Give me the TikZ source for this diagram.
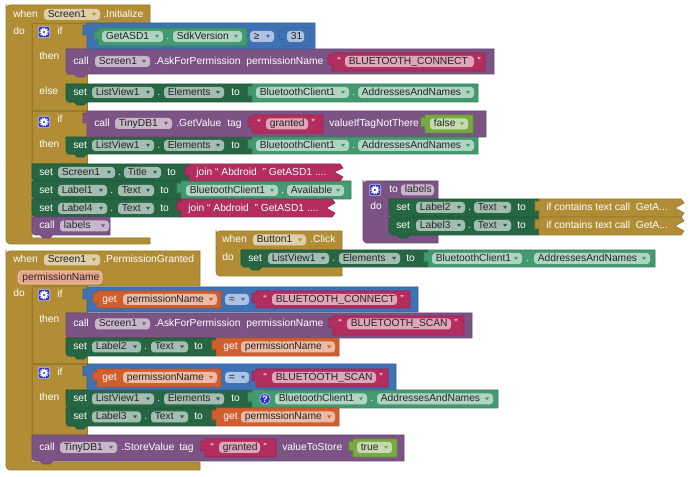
\documentclass[tikz,border=0pt]{standalone}
\usepackage{fontspec}
\setmainfont{Liberation Sans}
\definecolor{blkgold}{HTML}{B18E35}
\definecolor{blkpurple}{HTML}{7C5385}
\definecolor{blkgreen}{HTML}{266643}
\definecolor{blkteal}{HTML}{439970}
\definecolor{blkblue}{HTML}{3F71B5}
\definecolor{blkred}{HTML}{B32D5E}
\definecolor{blkorange}{HTML}{D05F2D}
\definecolor{blklime}{HTML}{77AB41}
\definecolor{blkgear}{HTML}{3333CC}
%% statement block with a bump under it: style, x1, x2, y1, y2
\newcommand{\stblk}[5]{
  \draw[#1] (#2,#4) [rounded corners=2.5pt] -- (#2,#5) [sharp corners] -- (#2+8,#5) -- (#2+11,#5+3)
    -- (#2+18,#5+3) -- (#2+21,#5) -- (#3,#5) -- (#3,#4) -- cycle;
}
%% value block with a knob on the left
\newcommand{\valblk}[5]{
  \draw[#1] (#2,#4) -- (#2,#4+3) -- (#2-4,#4+2) -- (#2-4,#4+12) -- (#2,#4+11)
    -- (#2,#5) -- (#3,#5) -- (#3,#4) -- cycle;
}
%% collapsed value block, zigzag on the right
\newcommand{\zagblk}[5]{
  \draw[#1] (#2,#4) -- (#2,#4+3) -- (#2-4,#4+2) -- (#2-4,#4+12) -- (#2,#4+11) -- (#2,#5)
    -- (#3-3,#5) -- (#3,#5-4) -- (#3-9,#5-9) -- (#3,#4+4) -- (#3-3,#4) -- cycle;
}
%% event or procedure frame: style, x1, column, bar right, y1, bar bottom, foot top, y2
\newcommand{\hatblk}[8]{
  \draw[#1] (#2,#5+3) [rounded corners=3pt] -- (#2,#5) [sharp corners] -- (#4,#5) -- (#4,#6) -- (#3,#6)
    -- (#3,#7) -- (#4,#7) -- (#4,#8) [rounded corners=3pt] -- (#2,#8) -- (#2,#5+3) [sharp corners] -- cycle;
}
\begin{document}
\begin{tikzpicture}
[x=.75pt,y=-.75pt,line width=.5pt,
  goldblk/.style={fill=blkgold,draw=blkgold!85!black},
  purpleblk/.style={fill=blkpurple,draw=blkpurple!85!black},
  greenblk/.style={fill=blkgreen,draw=blkgreen!85!black},
  tealblk/.style={fill=blkteal,draw=blkteal!85!black},
  blueblk/.style={fill=blkblue,draw=blkblue!85!black},
  redblk/.style={fill=blkred,draw=blkred!85!black},
  orangeblk/.style={fill=blkorange,draw=blkorange!85!black},
  limeblk/.style={fill=blklime,draw=blklime!85!black},
  blktext/.style={anchor=west,inner sep=0pt,text height=5.6pt,text depth=1.6pt,text=white,font=\fontsize{7.7}{9}\selectfont},
  fieldtext/.style={anchor=west,inner sep=0pt,text height=5.6pt,text depth=1.6pt,text=black!85,font=\fontsize{7.7}{9}\selectfont},
  fieldbox/.style={fill=white,fill opacity=.58,rounded corners=2.5pt},
  gearbox/.style={fill=blkgear,draw=white!70!blkgear,rounded corners=1.5pt}]
\useasboundingbox (0,0) rectangle (690,477);
%% frames
\hatblk{goldblk}{6}{32}{150}{5}{24}{238}{244}
\hatblk{goldblk}{6}{32}{200}{251}{286}{462}{470}
\hatblk{goldblk}{216}{241}{342}{231}{250}{267}{276}
\hatblk{purpleblk}{363}{389}{438}{181}{199}{235}{243}
%% if blocks
\draw[goldblk] (32,23) -- (87,23) -- (87,49) -- (66,49) -- (66,74) -- (87,74) -- (87,84) -- (66,84)
  -- (66,102) -- (87,102) -- (87,110) -- (32,110) -- cycle;
\draw[goldblk] (32,111) -- (87,111) -- (87,137) -- (66,137) -- (66,154) -- (87,154) -- (87,163) -- (32,163) -- cycle;
\draw[goldblk] (32,286) -- (87,286) -- (87,313) -- (66,313) -- (66,356) -- (87,356) -- (87,363) -- (32,363) -- cycle;
\draw[goldblk] (32,364) -- (87,364) -- (87,390) -- (66,390) -- (66,426) -- (87,426) -- (87,435) -- (32,435) -- cycle;
%% statement rows
\foreach \blkstyle/\xa/\xb/\ya/\yb in {
  purpleblk/66/494/49/74, greenblk/66/252/84/102, greenblk/66/252/137/154,
  greenblk/32/189/164/181, greenblk/32/181/181/199, greenblk/32/181/199/217, purpleblk/32/110/217/235,
  greenblk/389/539/217/235, greenblk/389/539/199/217, greenblk/241/428/250/267,
  purpleblk/66/472/313/338, greenblk/66/216/338/356, greenblk/66/216/408/426, greenblk/66/252/390/408,
  purpleblk/32/404/435/461}
{
  \stblk{\blkstyle}{\xa}{\xb}{\ya}{\yb}
}
%% value blocks
\foreach \blkstyle/\xa/\xb/\ya/\yb in {
  blueblk/87/315/23/49, tealblk/98/247/28/46, blueblk/283/310/28/46, redblk/332/485/53/71,
  tealblk/252/478/84/102, purpleblk/87/486/111/137, redblk/252/323/115/133, limeblk/425/473/115/133,
  tealblk/252/478/137/154, tealblk/181/351/181/199, tealblk/428/655/250/267,
  blueblk/87/418/287/312, orangeblk/97/221/291/308, redblk/256/410/291/308, redblk/333/464/316/335,
  orangeblk/216/339/338/356, blueblk/87/396/364/390, orangeblk/97/221/369/387, redblk/256/388/369/387,
  tealblk/252/498/390/408, orangeblk/216/339/408/426, redblk/205/276/439/457, limeblk/353/397/439/457}
{
  \valblk{\blkstyle}{\xa}{\xb}{\ya}{\yb}
}
%% collapsed blocks
\foreach \blkstyle/\xa/\xb/\ya/\yb in {
  redblk/189/343/164/181, redblk/181/335/199/217, goldblk/539/684/199/217, goldblk/539/684/217/235}
{
  \zagblk{\blkstyle}{\xa}{\xb}{\ya}{\yb}
}
%% mutator buttons
\foreach \gearname/\x/\y in {gearone/44/32, geartwo/44/122, gearthree/44/295, gearfour/44/373, gearfive/375/190}
{
  \node (\gearname) at (\x,\y) [gearbox,minimum size=8.5pt,inner sep=0pt] {};
  \fill[white,even odd rule] (\gearname.center) circle (2.6pt) circle (1.1pt);
  \draw[white,line width=.9pt,dash pattern=on .9pt off .9pt] (\gearname.center) circle (3pt);
}
%% help button
\node (helpicon) at (265,399) [circle,fill=blkgear,draw=white!70!blkgear,minimum size=8pt,inner sep=0pt,
  text=white,font=\bfseries\fontsize{7}{8}\selectfont] {?};
%% texts on the blocks
\foreach \x/\y/\labeltext [count=\n] in {
  13/14.5/when, 103/14.5/.Initialize, 13/32/do, 57/32/if, 39/57/then, 39/92/else,
  166/36.5/., 73/61.5/call, 154/61.5/.AskForPermission, 246/61.5/permissionName,
  73/92.5/set, 157/92.5/., 231/92.5/to, 352/92.5/.,
  57/120/if, 39/145/then, 94/123.5/call, 176/123.5/.GetValue, 227/123.5/tag, 329/123.5/valueIfTagNotThere,
  73/145.5/set, 157/145.5/., 231/145.5/to, 352/145.5/.,
  39/172.5/set, 118/172.5/., 167/172.5/to, 196/172.5/{join “ Abdroid \ ” GetASD1 ....},
  39/190.5/set, 110/190.5/., 160/190.5/to, 281/190.5/.,
  39/208.5/set, 110/208.5/., 160/208.5/to, 188/208.5/{join “ Abdroid \ ” GetASD1 ....},
  39/226/call,
  389/190/to, 370/207/do, 396/208/set, 468/208/., 517/208/to, 546/208/{if contains text call \ GetA...},
  396/225.5/set, 468/225.5/., 517/225.5/to, 546/225.5/{if contains text call \ GetA...},
  222/240/when, 310/240/.Click, 222/258/do, 248/258.5/set, 332/258.5/., 406/258.5/to, 526/258.5/.,
  13/260/when, 103/260/.PermissionGranted, 13/294/do, 57/295/if, 39/320/then,
  102/299.5/get, 73/324/call, 154/324/.AskForPermission, 246/324/permissionName,
  73/347/set, 144/347/., 194/347/to, 223/347/get,
  57/373/if, 39/398/then, 102/377.5/get, 73/399/set, 157/399/., 231/399/to, 370/399/.,
  73/417/set, 144/417/., 194/417/to, 223/417/get,
  39/447.5/call, 121/447.5/.StoreValue, 179/447.5/tag, 282/447.5/valueToStore}
{
  \node (lbl\n) at (\x,\y) [blktext] {\labeltext};
}
%% opening and closing quotes
\foreach \x/\y/\qtext [count=\n] in {
  337/61.5/“, 477/61.5/”, 257/123.5/“, 311/123.5/”, 263/299.5/“, 400/299.5/”, 338/324/“, 454/324/”,
  263/377.5/“, 379/377.5/”, 210/447.5/“, 263/447.5/”}
{
  \node (quo\n) at (\x,\y) [blktext] {\qtext};
}
%% fields with a drop-down arrow
\foreach \xa/\xb/\yc/\fieldname/\clr [count=\n] in {
  44/100/14.5/Screen1/blkgold, 102/163/36.5/GetASD1/blkteal, 173/242/36.5/SdkVersion/blkteal,
  250/274/36.5/≥/blkblue, 95/150/61.5/Screen1/blkpurple,
  92/154/92.5/ListView1/blkgreen, 164/224/92.5/Elements/blkgreen,
  256/349/92.5/BluetoothClient1/blkteal, 358/474/92.5/AddressesAndNames/blkteal,
  115/172/123.5/TinyDB1/blkpurple, 430/468/124/false/blklime,
  92/154/145.5/ListView1/blkgreen, 164/224/145.5/Elements/blkgreen,
  256/349/145.5/BluetoothClient1/blkteal, 358/474/145.5/AddressesAndNames/blkteal,
  58/115/172.5/Screen1/blkgreen, 124/161/172.5/Title/blkgreen,
  58/107/190.5/Label1/blkgreen, 118/154/190.5/Text/blkgreen,
  186/278/190.5/BluetoothClient1/blkteal, 287/344/190.5/Available/blkteal,
  58/107/208.5/Label4/blkgreen, 118/154/208.5/Text/blkgreen, 60/109/226/labels/blkpurple,
  416/465/207.5/Label2/blkgreen, 474/511/207.5/Text/blkgreen,
  416/465/225.5/Label3/blkgreen, 474/511/225.5/Text/blkgreen,
  253/306/240/Button1/blkgold, 268/329/258.5/ListView1/blkgreen, 339/400/258.5/Elements/blkgreen,
  432/522/258.5/BluetoothClient1/blkteal, 534/650/258.5/AddressesAndNames/blkteal,
  44/100/260/Screen1/blkgold, 123/217/299.5/permissionName/blkorange, 225/249/299.5/=/blkblue,
  95/150/324/Screen1/blkpurple, 92/141/347/Label2/blkgreen, 151/188/347/Text/blkgreen,
  241/335/347/permissionName/blkorange,
  123/217/377.5/permissionName/blkorange, 225/249/377.5/=/blkblue,
  92/154/399/ListView1/blkgreen, 164/224/399/Elements/blkgreen,
  275/367/399/BluetoothClient1/blkteal, 377/493/399/AddressesAndNames/blkteal,
  92/141/417/Label3/blkgreen, 151/188/417/Text/blkgreen, 241/335/417/permissionName/blkorange,
  60/117/447.5/TinyDB1/blkpurple, 357/392/447.5/true/blklime}
{
  \path[fieldbox] (\xa,\yc-5.5) rectangle (\xb,\yc+5.5);
  \node (fld\n) at (\xa+3.5,\yc) [fieldtext] {\fieldname};
  \fill[\clr] (\xb-8,\yc-1.5) -- (\xb-4,\yc-1.5) -- (\xb-6,\yc+1.5) -- cycle;
}
%% fields without an arrow
\foreach \xa/\xb/\yc/\fieldname [count=\n] in {
  287/304/36.5/31, 345/474/61.5/BLUETOOTH\_CONNECT, 266/308/124/granted, 401/434/190/labels,
  272/397/299.5/BLUETOOTH\_CONNECT, 347/451/324/BLUETOOTH\_SCAN,
  272/376/377.5/BLUETOOTH\_SCAN, 219/260/447.5/granted}
{
  \path[fieldbox] (\xa,\yc-5.5) rectangle (\xb,\yc+5.5);
  \node (txt\n) at (\xa+3.5,\yc) [fieldtext] {\fieldname};
}
%% event parameter
\path[fill=blkorange!55!white,draw=white!70!blkorange,rounded corners=3pt] (18,271) rectangle (102,284);
\node (param) at (22,277.5) [fieldtext] {permissionName};
\end{tikzpicture}
\end{document}
